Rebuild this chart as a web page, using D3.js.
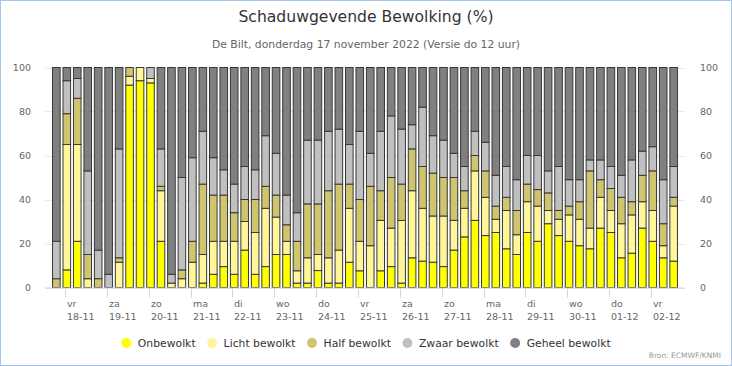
<!DOCTYPE html>
<html><head><meta charset="utf-8">
<script src="https://cdn.jsdelivr.net/npm/d3@7"></script>
<style>body{margin:0;background:#fff}svg{display:block}text{font-family:"DejaVu Sans",sans-serif}</style>
</head><body><svg id="c" width="732" height="366"></svg>
<script>
const seriesNames = ["Onbewolkt","Licht bewolkt","Half bewolkt","Zwaar bewolkt","Geheel bewolkt"];
const seriesColors = ["#ffff00","#fff599","#cfc56f","#c0c0c0","#808080"];
// 6-hourly forecast times (local), first 17-11-2022 19:00
const firstTime = "2022-11-17T19:00:00Z";
const stepHours = 6;
const onbewolkt = [0,8,21,0,0,0,0,92,94,93, 21,0,0,0,2,6,9.5,6,17,6, 9.5,15,15,2,2,7.7,2,2,11.5,7.6, 0,7.6,9.5,2,13.5,12,11.5,9.5,17,23, 30.5,23.6,25,17.6,15,25,21,29,23.6,21, 19,17.6,27,25,13.5,15.6,27,21,13.5,12];
const lichtBewolkt = [0,57,44,4,0,0,11.5,4,6,2, 23,2,4,11.5,13,15,11.5,15,13,19, 26.5,17,6,5.6,11.5,7.3,11.5,15,24.5,13.4, 19,22.9,17.5,28.5,30.5,24,21,23,13.5,13, 22.5,17.4,6,17.4,9,14,16,6,7.4,12, 12,9.4,14,10,15.5,17.4,12,14,5.5,25];
const halfBewolkt = [4,14,21,11,4,0,2,4,0,0, 2,0,4,9.5,32,21,21,13,10,15, 10,10,7.5,13.4,24.5,23,30.5,30,11,19, 27,13.5,23,16.5,19,19,19.5,17.5,19.5,8, 7,12,6,6,11,8,7.5,8,4,4, 8,26,8,10,12,6,12,18,10,4];
const zwaarBewolkt = [17,15,9,38,13,6,49.5,0,0,5, 17,4,42,38,24,17,11.5,13,15,13.5, 23,19,13.5,13,29,29,27,25,18,31, 15,27,28,25,11,27,17,17,11,11, 11,13,14,14,14,13,15.5,10,20,12, 10,5,9,10,10,19,11,11,20,14];
const geheelBewolkt = [79,6,5,47,83,94,37,0,0,0, 37,94,50,41,29,41,46.5,53,45,46.5, 31,39,58,66,33,33,29,28,35,29, 39,29,22,28,26,18,31,33,39,45, 29,34,49,45,51,40,40,47,45,51, 51,42,42,45,49,42,38,36,51,45];
const dayLabels = [["vr","18-11"],["za","19-11"],["zo","20-11"],["ma","21-11"],["di","22-11"],["wo","23-11"],["do","24-11"],["vr","25-11"],["za","26-11"],["zo","27-11"],["ma","28-11"],["di","29-11"],["wo","30-11"],["do","01-12"],["vr","02-12"]];
const firstDay = "2022-11-18T00:00:00Z";
const yTicks = [0,20,40,60,80,100];
const titleText = "Schaduwgevende Bewolking (%)";
const subtitleText = "De Bilt, donderdag 17 november 2022 (Versie do 12 uur)";
const creditText = "Bron: ECMWF/KNMI";

const svg = d3.select("#c");
const W = 732, H = 366;
const plot = {l:45, r:685, t:67.5, b:287.5};
const H6 = 3600e3;
const t0 = new Date(firstTime);
const series = [onbewolkt, lichtBewolkt, halfBewolkt, zwaarBewolkt, geheelBewolkt];
const times = onbewolkt.map((_, i) => new Date(+t0 + i*stepHours*H6));
const x = d3.scaleUtc().domain([new Date(+times[0] - 6.5*H6), new Date(+times[times.length-1] + 6.5*H6)]).range([plot.l, plot.r]);
const y = d3.scaleLinear().domain([0,100]).range([plot.b, plot.t]);

svg.append("rect").attr("x",0.5).attr("y",0.5).attr("width",W-1).attr("height",H-1).attr("fill","#fff").attr("stroke","#a3c4ef");

svg.append("text").attr("x",W/2).attr("y",22).attr("text-anchor","middle").attr("font-size",15.6).attr("fill","#333").text(titleText);
svg.append("text").attr("x",W/2).attr("y",48).attr("text-anchor","middle").attr("font-size",10.8).attr("fill","#666").text(subtitleText);

// gridlines
svg.append("g").selectAll("line").data(yTicks).join("line")
  .attr("x1",plot.l).attr("x2",plot.r).attr("y1",d=>Math.round(y(d))+0.5).attr("y2",d=>Math.round(y(d))+0.5)
  .attr("stroke","#e6e6e6");

// y labels
svg.append("g").selectAll("text").data(yTicks).join("text")
  .attr("x",31).attr("y",d=>y(d)+3.5).attr("text-anchor","end").attr("font-size",9.5).attr("fill","#666").text(d=>d);
svg.append("g").selectAll("text").data(yTicks).join("text")
  .attr("x",700).attr("y",d=>y(d)+3.5).attr("text-anchor","start").attr("font-size",9.5).attr("fill","#666").text(d=>d);

// stacked bars
const rows = times.map((t,i) => { const o = {t}; series.forEach((s,k)=>o[k]=s[i]); return o; });
const stacked = d3.stack().keys([0,1,2,3,4])(rows);
const bw = 7.6;
svg.append("g").selectAll("g").data(stacked).join("g")
  .attr("fill",(d,k)=>seriesColors[k])
  .selectAll("rect").data(d=>d).join("rect")
  .attr("x",d=>x(d.data.t)-bw/2).attr("width",bw)
  .attr("y",d=>y(d[1])).attr("height",d=>Math.max(0,y(d[0])-y(d[1])))
  .attr("stroke",d=>(d[1]-d[0])>0?"#383838":"none").attr("stroke-width",1);

// x axis
svg.append("line").attr("x1",plot.l).attr("x2",plot.r).attr("y1",plot.b+0.5).attr("y2",plot.b+0.5).attr("stroke","#ccd6eb");
const d0 = new Date(firstDay);
const dayTimes = dayLabels.map((_,i)=>new Date(+d0 + i*24*H6));
const xa = svg.append("g").selectAll("g").data(dayTimes).join("g").attr("transform",d=>`translate(${Math.round(x(d))+0.5},0)`);
xa.append("line").attr("y1",plot.b+1).attr("y2",plot.b+10).attr("stroke","#ccd6eb");
xa.append("text").attr("x",1.5).attr("y",307).attr("font-size",9.5).attr("fill","#666").text((d,i)=>dayLabels[i][0]);
xa.append("text").attr("x",1.5).attr("y",319.5).attr("font-size",9.5).attr("fill","#666").text((d,i)=>dayLabels[i][1]);

// legend
const lg = svg.append("g");
let cx = 0;
const items = seriesNames.map((n,k)=>{
  const g = lg.append("g");
  g.append("circle").attr("cx",0).attr("cy",0).attr("r",5).attr("fill",seriesColors[k]);
  const t = g.append("text").attr("x",11.5).attr("y",3.8).attr("font-size",10.8).attr("fill","#333").text(n);
  return {g, w: t.node().getComputedTextLength()};
});
items.forEach(it=>{ it.g.attr("transform",`translate(${cx},343)`); cx += 11.5 + it.w + 16.5; });
const totalW = cx - 16.5 + 5;
lg.attr("transform",`translate(${W/2 - totalW/2 + 5},0)`);

svg.append("text").attr("x",721).attr("y",358).attr("text-anchor","end").attr("font-size",7.5).attr("fill","#999").text(creditText);
</script></body></html>
